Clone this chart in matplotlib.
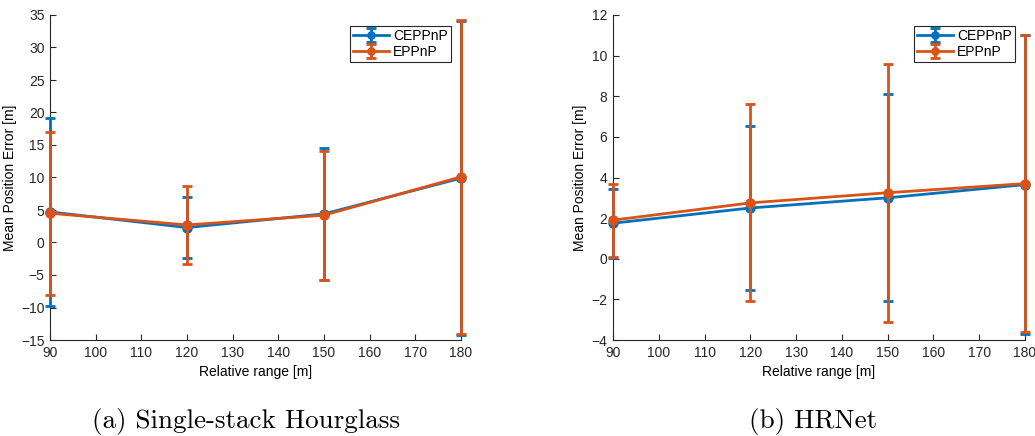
import numpy as np
import matplotlib
matplotlib.use('Agg')
import matplotlib.pyplot as plt

plt.rcParams['font.family'] = ['Liberation Sans', 'DejaVu Sans']

# data
ranges = [90, 120, 150, 180]

# (a) single-stack hourglass
a_cep_mean = [4.7, 2.3, 4.4, 9.9]
a_cep_std = [14.4, 4.65, 10.1, 24.1]
a_epp_mean = [4.5, 2.7, 4.2, 10.1]
a_epp_std = [12.5, 6.0, 9.9, 24.1]

# (b) HRNet
b_cep_mean = [1.75, 2.5, 3.0, 3.65]
b_cep_std = [1.7, 4.05, 5.1, 7.35]
b_epp_mean = [1.9, 2.75, 3.25, 3.7]
b_epp_std = [1.8, 4.85, 6.35, 7.3]

captions = ['(a) Single-stack Hourglass', '(b) HRNet']
blue = '#0072BD'
orange = '#D95319'

fig = plt.figure(figsize=(10.35, 4.36), dpi=100)
ax1 = fig.add_axes([50/1035, 1-340/436, 411/1035, 325/436])
ax2 = fig.add_axes([613/1035, 1-340/436, 412/1035, 325/436])

def draw(ax, cm, cs, em, es, ylim, yticks):
    z = 3
    for m, s, c, lab in [(cm, cs, blue, 'CEPPnP'), (em, es, orange, 'EPPnP')]:
        cont = ax.errorbar(ranges, m, yerr=s, color=c, lw=2, marker='o', ms=6.5,
                           capsize=3.5, capthick=2, label=lab, zorder=z)
        for art in cont.get_children():
            art.set_clip_on(False)
            art.set_zorder(z)
        z += 1
    ax.set_xlim(90, 180)
    ax.set_ylim(*ylim)
    ax.set_xticks(np.arange(90, 181, 10))
    ax.set_yticks(yticks)
    ax.tick_params(direction='in', labelsize=10, length=4, pad=4, colors='#262626')
    for s in ['top', 'right']:
        ax.spines[s].set_visible(False)
    for s in ['left', 'bottom']:
        ax.spines[s].set_color('#262626')
    ax.set_xlabel('Relative range [m]', fontsize=10, labelpad=4)
    ax.set_ylabel('Mean Position Error [m]', fontsize=10, labelpad=3)
    leg = ax.legend(loc='upper right', bbox_to_anchor=(0.975, 0.965), fontsize=10,
                    fancybox=False, edgecolor='#262626', framealpha=1,
                    handlelength=2.6, borderpad=0.2, labelspacing=0.15,
                    handletextpad=0.3, borderaxespad=0, markerscale=0.8)
    leg.get_frame().set_linewidth(0.8)
    leg.set_zorder(10)

draw(ax1, a_cep_mean, a_cep_std, a_epp_mean, a_epp_std, (-15, 35), np.arange(-15, 36, 5))
draw(ax2, b_cep_mean, b_cep_std, b_epp_mean, b_epp_std, (-4, 12), np.arange(-4, 13, 2))

fig.text(246/1035, 1-421/436, captions[0], ha='center', va='center',
         fontsize=19.5, family='cmr10')
fig.text(813/1035, 1-421/436, captions[1], ha='center', va='center',
         fontsize=19.5, family='cmr10')

fig.savefig('out.png', dpi=100)
